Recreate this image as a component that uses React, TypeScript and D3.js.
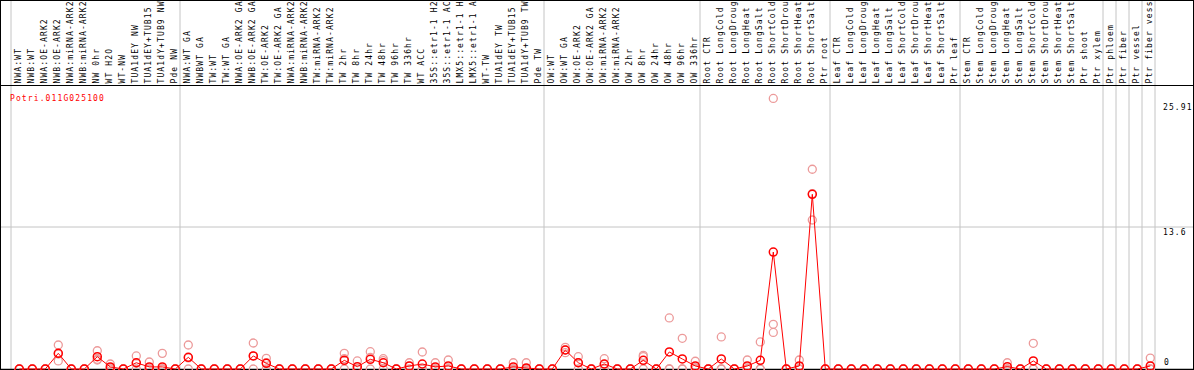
import React from "react";
import * as d3 from "d3";

const geneId = "Potri.011G025100";

const labels: string[] = [
  "NWA:WT", "NWB:WT", "NWA:OE-ARK2", "NWB:OE-ARK2", "NWA:miRNA-ARK2", "NWB:miRNA-ARK2",
  "NW 0hr", "WT H2O", "WT-NW", "TUA1dEY NW", "TUA1dEY+TUB15", "TUA1dY+TUB9 NW", "Pde NW",
  "NWA:WT GA", "NWBWT GA", "TW:WT", "TW:WT GA", "NWA:OE-ARK2 GA", "NWB:OE-ARK2 GA",
  "TW:OE-ARK2", "TW:OE-ARK2 GA", "NWA:miRNA-ARK2", "NWB:miRNA-ARK2", "TW:miRNA-ARK2",
  "TW:miRNA-ARK2", "TW 2hr", "TW 8hr", "TW 24hr", "TW 48hr", "TW 96hr", "TW 336hr", "WT ACC",
  "35S::etr1-1 H2", "35S::etr1-1 AC", "LMX5::etr1-1 H", "LMX5::etr1-1 A", "WT-TW",
  "TUA1dEY TW", "TUA1dEY+TUB15", "TUA1dY+TUB9 TW", "Pde TW",
  "OW:WT", "OW:WT GA", "OW:OE-ARK2", "OW:OE-ARK2 GA", "OW:miRNA-ARK2", "OW:miRNA-ARK2",
  "OW 2hr", "OW 8hr", "OW 24hr", "OW 48hr", "OW 96hr", "OW 336hr",
  "Root CTR", "Root LongCold", "Root LongDroug", "Root LongHeat", "Root LongSalt",
  "Root ShortCold", "Root ShortDrou", "Root ShortHeat", "Root ShortSalt", "Ptr root",
  "Leaf CTR", "Leaf LongCold", "Leaf LongDroug", "Leaf LongHeat", "Leaf LongSalt",
  "Leaf ShortCold", "Leaf ShortDrou", "Leaf ShortHeat", "Leaf ShortSalt", "Ptr leaf",
  "Stem CTR", "Stem LongCold", "Stem LongDroug", "Stem LongHeat", "Stem LongSalt",
  "Stem ShortCold", "Stem ShortDrou", "Stem ShortHeat", "Stem ShortSalt", "Ptr shoot",
  "Ptr xylem", "Ptr phloem", "Ptr fiber", "Ptr vessel", "Ptr fiber vess",
];

// group boundaries (column index where a separator line sits)
const separators: number[] = [0, 13, 41, 53, 63, 73, 84, 85, 86, 87, 88];

const means: number[] = [
  0, 0, 0, 1.5, 0, 0, 1.18, 0.2, 0, 0.6, 0.2, 0.2, 0,
  1.12, 0, 0, 0, 0, 1.25, 0.54, 0, 0, 0, 0, 0, 0.83, 0.22, 0.93, 0.6, 0, 0.29, 0.48,
  0.2, 0.29, 0, 0, 0, 0, 0.2, 0.1, 0,
  0, 1.82, 0.6, 0, 0.48, 0, 0, 0.83, 0, 1.63, 0.96, 0.29,
  0, 0.96, 0, 0.29, 0.83, 11.2, 0, 0.29, 16.73, 0,
  0, 0, 0, 0, 0, 0, 0, 0, 0, 0,
  0, 0, 0, 0.22, 0, 0.77, 0, 0, 0, 0, 0,
  0, 0, 0, 0.29,
];

const rep1: number[] = [
  0, 0, 0, 2.3, 0, 0, 1.75, 0.48, 0, 1.25, 0.67, 1.5, 0,
  2.3, 0, 0, 0, 0, 2.49, 1.02, 0, 0, 0, 0, 0, 1.5, 0.77, 1.66, 0.99, 0, 0.6, 1.63,
  0.6, 0.86, 0, 0, 0, 0, 0.6, 0.6, 0,
  0, 2.08, 1.18, 0, 0.99, 0, 0, 1.31, 0, 4.89, 2.94, 0.74,
  0, 3.07, 0, 0.86, 2.59, 25.91, 0, 0.86, 19.13, 0,
  0, 0, 0, 0, 0, 0, 0, 0, 0, 0,
  0, 0, 0, 0.6, 0, 2.46, 0, 0, 0, 0, 0,
  0, 0, 0, 1.05,
];

const rep2: number[] = [
  0, 0, 0, 0.77, 0, 0, 0.86, 0.1, 0, 0.55, 0, 0, 0,
  0, 0, 0, 0, 0, 0, 0.6, 0, 0, 0, 0, 0, 0, 0, 0, 0.8, 0, 0.27, 0,
  0, 0, 0, 0, 0, 0, 0, 0, 0,
  0, 1.82, 0.6, 0, 0.45, 0, 0, 0, 0, 0, 0, 0.13,
  0, 0, 0, 0, 0, 4.28, 0, 0, 14.27, 0,
  0, 0, 0, 0, 0, 0, 0, 0, 0, 0,
  0, 0, 0, 0, 0, 0, 0, 0, 0, 0, 0,
  0, 0, 0, 0,
];

const rep3: number[] = [
  0, 0, 0, 1.43, 0, 0, 0.93, 0, 0, 0, 0, 0, 0,
  1.06, 0, 0, 0, 0, 1.26, 0, 0, 0, 0, 0, 0, 0.99, 0, 1.1, 0, 0, 0, 0,
  0, 0, 0, 0, 0, 0, 0, 0, 0,
  0, 1.56, 0, 0, 0, 0, 0, 1.18, 0, 0, 0, 0,
  0, 0, 0, 0, 0, 3.5, 0, 0, 16.8, 0,
  0, 0, 0, 0, 0, 0, 0, 0, 0, 0,
  0, 0, 0, 0, 0, 0, 0, 0, 0, 0, 0,
  0, 0, 0, 0,
];

const yMid = 13.6;
const yTickLabels: string[] = ["25.91", "13.6", "0"];

const W = 1194;
const H = 370;
const FONT = "'DejaVu Sans Mono', monospace";

export default function App() {
  const n = labels.length;
  const x = d3.scaleLinear().domain([0, n]).range([11, 1155]);
  const y = d3.scaleLinear().domain([0, yMid * 2]).range([369, 85]);
  const cx = (i: number) => x(i) + 8.3;

  const line = d3
    .line<number>()
    .x((_, i) => cx(i))
    .y((d) => y(d));

  const reps = [rep1, rep2, rep3];
  const textStyle = { fontFamily: FONT, fontSize: 8, letterSpacing: 1.12 } as const;

  return (
    <svg
      width={W}
      height={H}
      style={{ position: "absolute", left: 0, top: 0, background: "#fff" }}
    >
      <rect x={0} y={0} width={W} height={H} fill="#fff" />
      {separators.map((s) => (
        <line key={"s" + s} x1={x(s)} x2={x(s)} y1={0} y2={H} stroke="#c4c4c4" strokeWidth={1} />
      ))}
      <line x1={0} x2={W} y1={y(yMid)} y2={y(yMid)} stroke="#c4c4c4" strokeWidth={1} />
      <line x1={0} x2={W} y1={0.5} y2={0.5} stroke="#000" strokeWidth={1} />
      <line x1={0} x2={W} y1={85.5} y2={85.5} stroke="#000" strokeWidth={1} />
      <line x1={0} x2={W} y1={369.5} y2={369.5} stroke="#000" strokeWidth={1.5} />
      <line x1={0.5} x2={0.5} y1={0} y2={H} stroke="#000" strokeWidth={1} />
      <line x1={1193.5} x2={1193.5} y1={0} y2={H} stroke="#000" strokeWidth={1} />

      {labels.map((l, i) => (
        <text
          key={"l" + i}
          transform={`translate(${x(i) + 9.8},83.5) rotate(-90)`}
          style={textStyle}
          fill="#000"
        >
          {l}
        </text>
      ))}

      <text x={10} y={101} style={textStyle} fill="#ff0000">
        {geneId}
      </text>

      <text x={1163} y={y(25.91) + 11.5} style={textStyle} fill="#000">
        {yTickLabels[0]}
      </text>
      <text x={1163} y={y(yMid) + 8} style={textStyle} fill="#000">
        {yTickLabels[1]}
      </text>
      <text x={1164} y={y(0) - 4} style={textStyle} fill="#000">
        {yTickLabels[2]}
      </text>

      {reps.map((r, k) =>
        r.map((v, i) => (
          <circle
            key={`r${k}-${i}`}
            cx={cx(i)}
            cy={y(v)}
            r={4}
            fill="none"
            stroke="#ec9a9a"
            strokeWidth={1.3}
          />
        ))
      )}

      <path d={line(means) || ""} fill="none" stroke="#ff0000" strokeWidth={1} />

      {means.map((v, i) => (
        <circle
          key={"m" + i}
          cx={cx(i)}
          cy={y(v)}
          r={4}
          fill="none"
          stroke="#ff0000"
          strokeWidth={1.5}
        />
      ))}
    </svg>
  );
}
